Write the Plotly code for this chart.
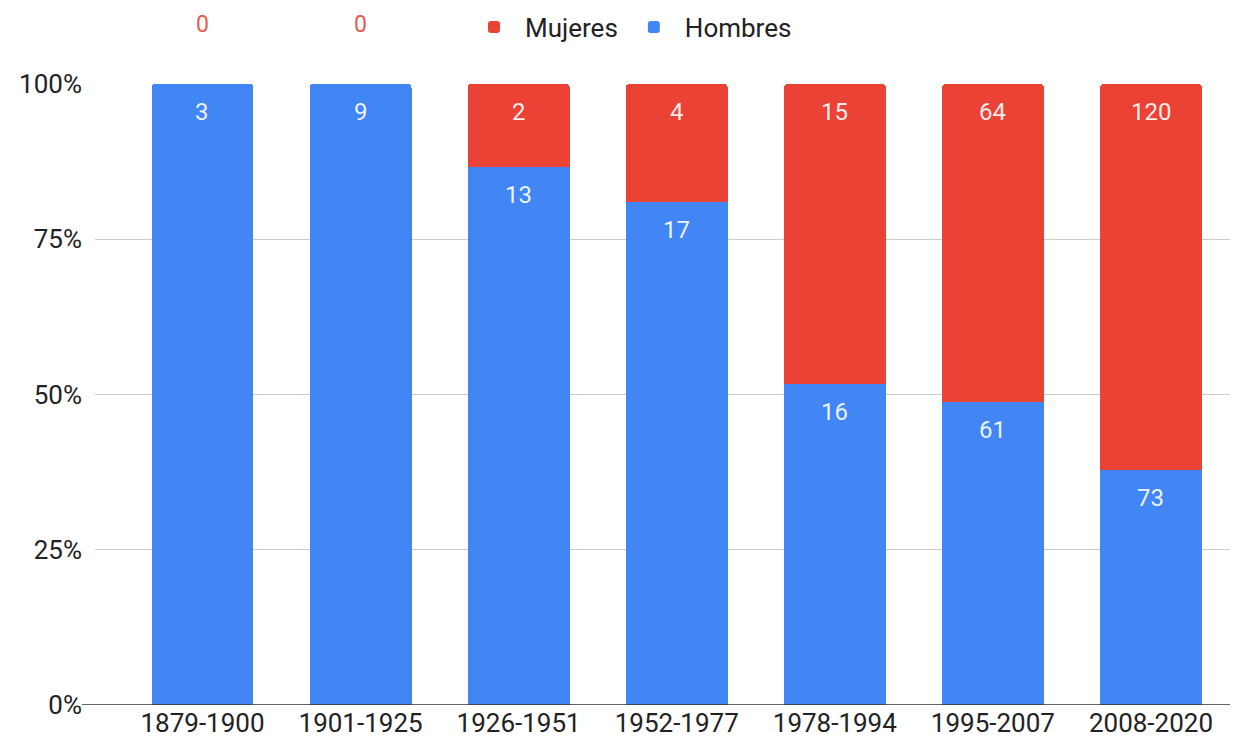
import plotly.graph_objects as go

# --- Data ---
periodos = ["1879-1900", "1901-1925", "1926-1951", "1952-1977", "1978-1994", "1995-2007", "2008-2020"]
hombres = [3, 9, 13, 17, 16, 61, 73]
mujeres = [0, 0, 2, 4, 15, 64, 120]

color_hombres = "#4285F4"
color_mujeres = "#EA4335"
font_family = "Roboto, Arial, sans-serif"

# page body adds an 8px offset, so the figure is a bit smaller than the window
W, H = 1237, 737

fig = go.Figure()
fig.add_trace(
    go.Bar(
        x=periodos,
        y=hombres,
        name="Hombres",
        marker=dict(color=color_hombres, line=dict(width=0)),
    )
)
fig.add_trace(
    go.Bar(
        x=periodos,
        y=mujeres,
        name="Mujeres",
        marker=dict(color=color_mujeres, line=dict(width=0)),
    )
)

# data labels, placed at the top of each segment
label_font = dict(size=24, color="rgba(255,255,255,0.92)", family=font_family)
for cat, h, m in zip(periodos, hombres, mujeres):
    total = h + m
    fig.add_annotation(
        x=cat, y=h / total, text=str(h), showarrow=False,
        yshift=-28, font=label_font,
    )
    if m > 0:
        fig.add_annotation(
            x=cat, y=1, text=str(m), showarrow=False,
            yshift=-28, font=label_font,
        )
    else:
        # zero counts sit above the bar
        fig.add_annotation(
            x=cat, y=1, text=str(m), showarrow=False,
            yshift=60, font=dict(size=23, color="#E35D52", family=font_family),
        )

# darker baseline at 0%
fig.add_shape(
    type="line", xref="paper", yref="y", x0=-0.0115, x1=1, y0=0, y1=0,
    line=dict(color="#333333", width=1.5),
)

fig.update_layout(
    width=W,
    height=H,
    barmode="stack",
    barnorm="fraction",
    bargap=0.355,
    barcornerradius=4,
    plot_bgcolor="white",
    paper_bgcolor="white",
    font=dict(family=font_family, size=24, color="#222222"),
    margin=dict(l=87, r=15, t=76, b=40, autoexpand=False),
    legend=dict(
        orientation="h",
        xref="container",
        yref="container",
        x=622 / W,
        xanchor="center",
        y=1 - 19 / H,
        yanchor="middle",
        traceorder="reversed",
        itemwidth=52,
        font=dict(size=26, color="#222222"),
    ),
    xaxis=dict(
        range=[-0.68, 6.5],
        showgrid=False,
        automargin=False,
        tickfont=dict(size=26, color="#222222"),
    ),
    yaxis=dict(
        range=[0, 1],
        tickvals=[0, 0.25, 0.5, 0.75, 1],
        ticktext=["0%", "25%", "50%", "75%", "100%"],
        showgrid=True,
        gridcolor="#cccccc",
        gridwidth=1,
        zeroline=False,
        automargin=False,
        ticklabelstandoff=12,
        tickfont=dict(size=26, color="#222222"),
    ),
)

fig.write_html("out.html")
